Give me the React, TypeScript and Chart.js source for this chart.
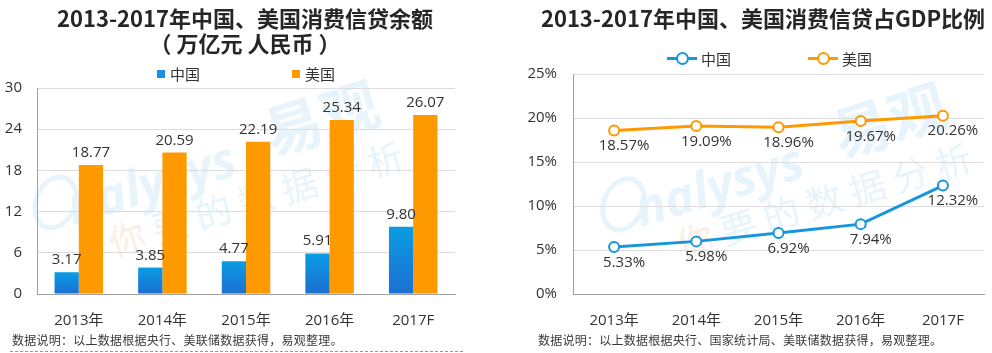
import React, { useEffect, useRef } from "react";
import { Chart, registerables } from "chart.js";

Chart.register(...registerables);

const categories = ["2013年", "2014年", "2015年", "2016年", "2017F"];
const chinaBalance = [3.17, 3.85, 4.77, 5.91, 9.8];
const usBalance = [18.77, 20.59, 22.19, 25.34, 26.07];
const balanceMax = 30;
const balanceStep = 6;
const chinaGdpShare = [5.33, 5.98, 6.92, 7.94, 12.32];
const usGdpShare = [18.57, 19.09, 18.96, 19.67, 20.26];
const shareMax = 25;
const shareStep = 5;

const FONT = "'Open Sans', 'Noto Sans CJK SC', sans-serif";
const CJK = "'Noto Sans CJK SC', 'Open Sans', sans-serif";
const BLUE = "#1896dc";
const ORANGE = "#ff9900";
const TEXT = "#333333";
const GRID = "#dcdcdc";
const AXIS = "#a0a0a0";

const barLabelPlugin = {
  id: "barLabels",
  afterDatasetsDraw(chart: any) {
    const ctx = chart.ctx;
    ctx.save();
    ctx.font = `15px ${FONT}`;
    ctx.fillStyle = TEXT;
    ctx.textAlign = "center";
    ctx.textBaseline = "alphabetic";
    chart.data.datasets.forEach((ds: any, i: number) => {
      const meta = chart.getDatasetMeta(i);
      meta.data.forEach((el: any, j: number) => {
        ctx.fillText(Number(ds.data[j]).toFixed(2), el.x, el.y - 8);
      });
    });
    ctx.restore();
  },
};

const lineLabelPlugin = {
  id: "lineLabels",
  afterDatasetsDraw(chart: any) {
    const ctx = chart.ctx;
    ctx.save();
    ctx.font = `15px ${FONT}`;
    ctx.fillStyle = TEXT;
    ctx.textAlign = "center";
    ctx.textBaseline = "top";
    chart.data.datasets.forEach((ds: any, i: number) => {
      const meta = chart.getDatasetMeta(i);
      meta.data.forEach((el: any, j: number) => {
        ctx.fillText(Number(ds.data[j]).toFixed(2) + "%", el.x + 10, el.y + 8);
      });
    });
    ctx.restore();
  },
};

function Watermark({ x, y }: { x: number; y: number }) {
  const blue = "#e8f4fc";
  return (
    <div
      style={{
        position: "absolute",
        left: x,
        top: y,
        width: 0,
        height: 0,
        transform: "rotate(-17deg)",
        transformOrigin: "0 0",
        pointerEvents: "none",
      }}
    >
      <div
        style={{
          position: "absolute",
          left: -80,
          top: -84,
          width: 34,
          height: 48,
          border: `5px solid ${blue}`,
          borderRadius: "50%",
          transform: "rotate(40deg)",
        }}
      />
      <div
        style={{
          position: "absolute",
          left: -48,
          top: -72,
          font: `italic bold 50px 'Open Sans', sans-serif`,
          lineHeight: "50px",
          color: blue,
          whiteSpace: "nowrap",
        }}
      >
        nalysys
      </div>
      <div
        style={{
          position: "absolute",
          left: 163,
          top: -90,
          font: `bold 58px ${CJK}`,
          lineHeight: "58px",
          color: blue,
          whiteSpace: "nowrap",
        }}
      >
        易观
      </div>
      <div
        style={{
          position: "absolute",
          left: -18,
          top: -22,
          font: `36px ${CJK}`,
          lineHeight: "40px",
          letterSpacing: "9px",
          color: blue,
          whiteSpace: "nowrap",
        }}
      >
        <span style={{ color: "#fdeee3" }}>你</span>要的数据分析
      </div>
    </div>
  );
}

function BarPanel() {
  const ref = useRef<HTMLCanvasElement>(null);
  useEffect(() => {
    const chart = new Chart(ref.current!, {
      type: "bar",
      data: {
        labels: categories,
        datasets: [
          {
            label: "中国",
            data: chinaBalance,
            backgroundColor: (c: any) => {
              const ch = c.chart;
              if (!ch.chartArea || c.raw === undefined) return "#0f8ee0";
              const top = ch.scales.y.getPixelForValue(c.raw);
              const bottom = ch.scales.y.getPixelForValue(0);
              const g = ch.ctx.createLinearGradient(0, top, 0, bottom);
              g.addColorStop(0, "#0a9de3");
              g.addColorStop(1, "#1b6fd2");
              return g;
            },
            borderWidth: 0,
            categoryPercentage: 0.58,
            barPercentage: 1,
          },
          {
            label: "美国",
            data: usBalance,
            backgroundColor: ORANGE,
            borderWidth: 0,
            categoryPercentage: 0.58,
            barPercentage: 1,
          },
        ],
      },
      options: {
        responsive: false,
        animation: false,
        layout: { padding: { top: 88, right: 41, left: 0, bottom: 0 } },
        plugins: { legend: { display: false }, tooltip: { enabled: false }, title: { display: false } },
        scales: {
          x: {
            grid: { display: false },
            border: { display: true, color: AXIS, width: 1 },
            ticks: { color: TEXT, font: { family: FONT, size: 15 }, padding: 10 },
            afterFit: (s: any) => {
              s.height = 59;
            },
          },
          y: {
            min: 0,
            max: balanceMax,
            ticks: { stepSize: balanceStep, color: TEXT, font: { family: FONT, size: 15 }, padding: 15 },
            grid: { color: GRID, drawTicks: false },
            border: { display: true, color: AXIS, width: 1 },
            afterFit: (s: any) => {
              s.width = 37;
            },
          },
        },
      },
      plugins: [barLabelPlugin],
    } as any);
    return () => chart.destroy();
  }, []);
  return (
    <div style={{ position: "absolute", left: 0, top: 0, width: 496, height: 353 }}>
      <Watermark x={127} y={238} />
      <canvas ref={ref} width={496} height={353} style={{ position: "absolute", left: 0, top: 0, width: 496, height: 353 }} />
      <div
        style={{
          position: "absolute",
          left: 35,
          width: 420,
          top: 5,
          textAlign: "center",
          font: `bold 22px ${CJK}`,
          lineHeight: "25px",
          color: "#262626",
          whiteSpace: "nowrap",
        }}
      >
        2013-2017年中国、美国消费信贷余额
        <br />（ 万亿元 人民币 ）
      </div>
      <div style={{ position: "absolute", left: 157, top: 70, width: 8, height: 8, background: "#1a8fe3" }} />
      <div style={{ position: "absolute", left: 170, top: 64, font: `15px ${CJK}`, lineHeight: "20px", color: TEXT }}>中国</div>
      <div style={{ position: "absolute", left: 292, top: 70, width: 8, height: 8, background: ORANGE }} />
      <div style={{ position: "absolute", left: 305, top: 64, font: `15px ${CJK}`, lineHeight: "20px", color: TEXT }}>美国</div>
      <div
        style={{
          position: "absolute",
          left: 12,
          top: 331,
          font: `12px ${CJK}`,
          letterSpacing: "0.25px",
          lineHeight: "18px",
          color: "#3a3a3a",
          whiteSpace: "nowrap",
        }}
      >
        数据说明：以上数据根据央行、美联储数据获得，易观整理。
      </div>
      <div style={{ position: "absolute", left: 10, top: 351, width: 453, borderTop: "1px dashed #999" }} />
    </div>
  );
}

function LinePanel() {
  const ref = useRef<HTMLCanvasElement>(null);
  useEffect(() => {
    const chart = new Chart(ref.current!, {
      type: "line",
      data: {
        labels: categories,
        datasets: [
          {
            label: "中国",
            data: chinaGdpShare,
            borderColor: BLUE,
            borderWidth: 3,
            pointRadius: 5,
            pointBackgroundColor: "#ffffff",
            pointBorderColor: BLUE,
            pointBorderWidth: 2,
            tension: 0,
          },
          {
            label: "美国",
            data: usGdpShare,
            borderColor: ORANGE,
            borderWidth: 3,
            pointRadius: 5,
            pointBackgroundColor: "#ffffff",
            pointBorderColor: ORANGE,
            pointBorderWidth: 2,
            tension: 0,
          },
        ],
      },
      options: {
        responsive: false,
        animation: false,
        layout: { padding: { top: 74, right: 8, left: 0, bottom: 0 } },
        plugins: { legend: { display: false }, tooltip: { enabled: false }, title: { display: false } },
        scales: {
          x: {
            offset: true,
            grid: { display: false },
            border: { display: true, color: AXIS, width: 1 },
            ticks: { color: TEXT, font: { family: FONT, size: 15 }, padding: 10 },
            afterFit: (s: any) => {
              s.height = 59;
            },
          },
          y: {
            min: 0,
            max: shareMax,
            ticks: {
              stepSize: shareStep,
              color: TEXT,
              font: { family: FONT, size: 15 },
              padding: 16,
              callback: (v: any) => v + "%",
            },
            grid: { color: GRID, drawTicks: false },
            border: { display: true, color: AXIS, width: 1 },
            afterFit: (s: any) => {
              s.width = 77;
            },
          },
        },
      },
      plugins: [lineLabelPlugin],
    } as any);
    return () => chart.destroy();
  }, []);
  const legendItem = (color: string, x: number, label: string) => (
    <>
      <div style={{ position: "absolute", left: x, top: 57, width: 30, height: 3, background: color }} />
      <div
        style={{
          position: "absolute",
          left: x + 9,
          top: 52,
          width: 9,
          height: 9,
          borderRadius: "50%",
          border: `2px solid ${color}`,
          background: "#fff",
        }}
      />
      <div style={{ position: "absolute", left: x + 34, top: 49, font: `15px ${CJK}`, lineHeight: "20px", color: TEXT }}>
        {label}
      </div>
    </>
  );
  return (
    <div style={{ position: "absolute", left: 496, top: 0, width: 496, height: 353 }}>
      <Watermark x={199} y={240} />
      <canvas ref={ref} width={496} height={353} style={{ position: "absolute", left: 0, top: 0, width: 496, height: 353 }} />
      <div
        style={{
          position: "absolute",
          left: 40,
          width: 454,
          top: 5,
          textAlign: "center",
          font: `bold 22px ${CJK}`,
          lineHeight: "25px",
          color: "#262626",
          whiteSpace: "nowrap",
        }}
      >
        2013-2017年中国、美国消费信贷占GDP比例
      </div>
      {legendItem(BLUE, 171, "中国")}
      {legendItem(ORANGE, 312, "美国")}
      <div
        style={{
          position: "absolute",
          left: 42,
          top: 331,
          font: `12px ${CJK}`,
          letterSpacing: "0.25px",
          lineHeight: "18px",
          color: "#3a3a3a",
          whiteSpace: "nowrap",
        }}
      >
        数据说明：以上数据根据央行、国家统计局、美联储数据获得，易观整理。
      </div>
    </div>
  );
}

export default function App() {
  return (
    <div
      style={{
        position: "fixed",
        left: 0,
        top: 0,
        width: 992,
        height: 353,
        background: "#ffffff",
        overflow: "hidden",
      }}
    >
      <BarPanel />
      <LinePanel />
    </div>
  );
}
